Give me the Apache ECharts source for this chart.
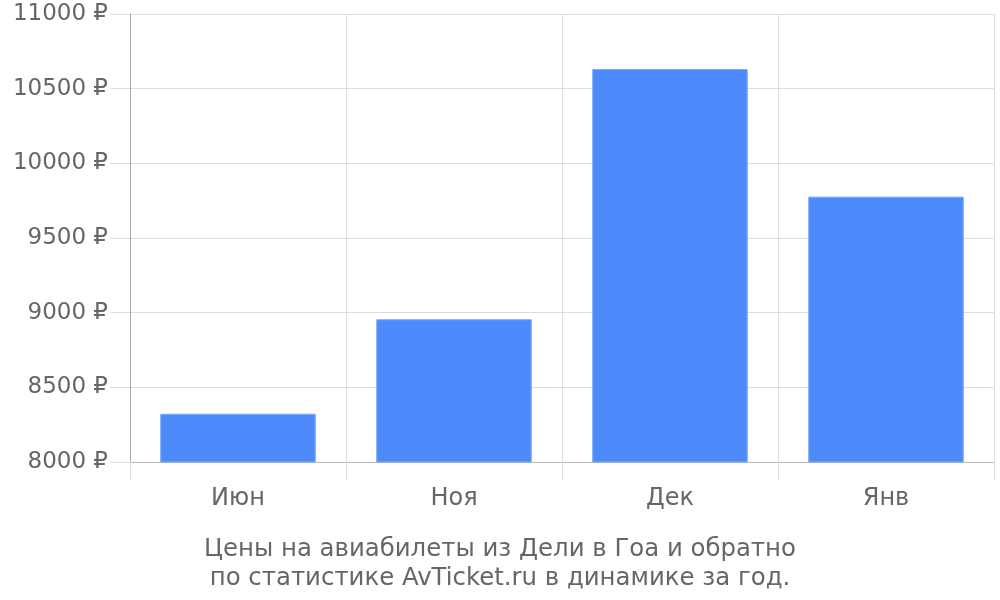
<!DOCTYPE html>
<html>
<head>
<meta charset="utf-8">
<script src="https://cdn.jsdelivr.net/npm/echarts@6/dist/echarts.min.js"></script>
<style>
  html, body { margin: 0; padding: 0; background: #fff; }
  #chart { width: 1000px; height: 600px; }
</style>
</head>
<body>
<div id="chart"></div>
<script>
var months = ['Июн', 'Ноя', 'Дек', 'Янв'];
var prices = [8323, 8956, 10631, 9777];
var titleLines = ['Цены на авиабилеты из Дели в Гоа и обратно', 'по статистике AvTicket.ru в динамике за год.'];

var myChart = echarts.init(document.getElementById('chart'));

var option = {
  animation: false,
  backgroundColor: '#fff',
  textStyle: { fontFamily: 'DejaVu Sans' },
  title: {
    text: titleLines.join('\n'),
    left: 'center',
    top: 530,
    textStyle: {
      fontFamily: 'DejaVu Sans',
      fontSize: 24.4,
      fontWeight: 'normal',
      color: '#666',
      lineHeight: 29
    }
  },
  grid: {
    left: 130,
    right: 6,
    top: 14,
    bottom: 138
  },
  xAxis: {
    type: 'category',
    data: months,
    axisLine: { lineStyle: { color: '#bbb', width: 1 } },
    axisTick: { show: true, length: 18, lineStyle: { color: '#ddd' } },
    axisLabel: { color: '#666', fontSize: 24, margin: 25, fontFamily: 'DejaVu Sans' },
    splitLine: { show: true, lineStyle: { color: '#ddd', width: 1 } }
  },
  yAxis: {
    type: 'value',
    min: 8000,
    max: 11000,
    interval: 500,
    axisLine: { show: true, lineStyle: { color: '#aaa', width: 1 } },
    axisTick: { show: true, length: 20, lineStyle: { color: '#ddd' } },
    axisLabel: {
      color: '#666',
      fontSize: 23,
      margin: 22,
      fontFamily: 'DejaVu Sans',
      formatter: function (v) { return v + ' ₽'; }
    },
    splitLine: { show: true, lineStyle: { color: '#ddd', width: 1 } }
  },
  series: [{
    type: 'bar',
    data: prices,
    barCategoryGap: '28%',
    itemStyle: { color: '#4d8afb', borderColor: '#7aa8fc', borderWidth: 1 }
  }]
};

myChart.setOption(option);
</script>
</body>
</html>
